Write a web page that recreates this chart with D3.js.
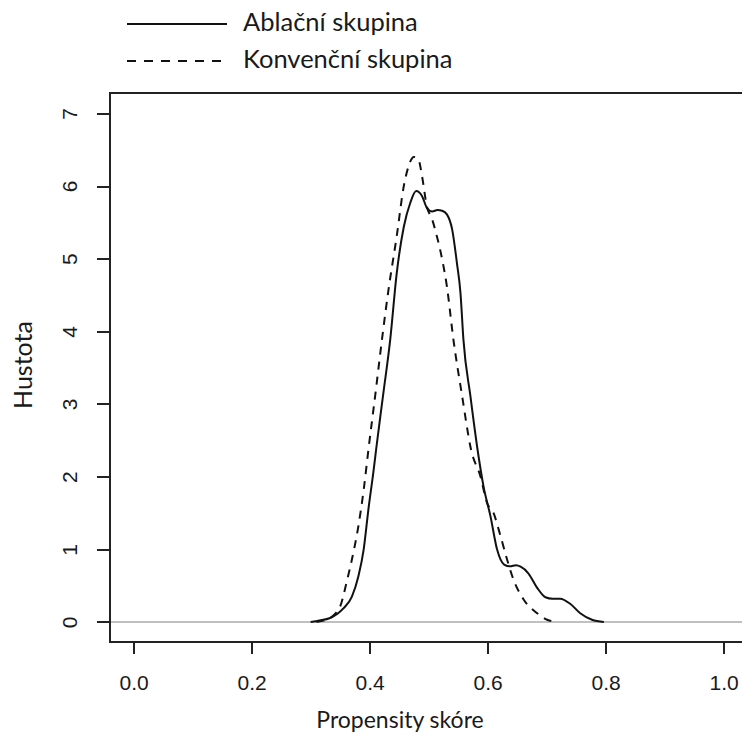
<!DOCTYPE html>
<html lang="cs">
<head>
    <meta charset="UTF-8">
    <title>Propensity skóre</title>
    <script type="text/javascript" src="https://cdn.jsdelivr.net/npm/d3@7"></script>
    <style>
        body { margin: 0; background: #fff; }
        .axis line { stroke: #222; stroke-width: 2; shape-rendering: crispEdges; }
        .axis text { font-family: "Liberation Sans", Arial, sans-serif; font-size: 21px; fill: #1a1a1a; }
        .lab { font-family: Lato, "Open Sans", sans-serif; fill: #1a1a1a; }
    </style>
</head>
<body>
    <script type="text/javascript">
        // odhad hustoty - ablacni skupina (plna cara)
        let ablX = [0.300, 0.315, 0.333, 0.345, 0.356, 0.370, 0.381, 0.390, 0.398, 0.407,
                    0.411, 0.423, 0.435, 0.446, 0.458, 0.469, 0.479, 0.489, 0.497, 0.506,
                    0.515, 0.523, 0.531, 0.540, 0.548, 0.554, 0.559, 0.571, 0.583, 0.593,
                    0.605, 0.616, 0.628, 0.638, 0.648, 0.656, 0.669, 0.684, 0.698, 0.710,
                    0.723, 0.740, 0.757, 0.777, 0.797]
        let ablY = [0, 0.02, 0.055, 0.11, 0.19, 0.35, 0.63, 1.00, 1.55, 2.10,
                    2.37, 3.13, 3.89, 4.80, 5.44, 5.77, 5.93, 5.86, 5.70, 5.65,
                    5.67, 5.66, 5.61, 5.40, 4.94, 4.53, 3.89, 3.10, 2.37, 1.87,
                    1.45, 1.00, 0.79, 0.765, 0.78, 0.76, 0.67, 0.47, 0.34, 0.32,
                    0.32, 0.25, 0.12, 0.03, 0]

        // konvencni skupina (carkovana)
        let konX = [0.310, 0.320, 0.330, 0.340, 0.350, 0.362, 0.370, 0.381, 0.390, 0.398,
                    0.410, 0.421, 0.432, 0.446, 0.458, 0.466, 0.475, 0.483, 0.489, 0.497,
                    0.506, 0.514, 0.523, 0.531, 0.542, 0.557, 0.572, 0.588, 0.599, 0.610,
                    0.622, 0.633, 0.644, 0.661, 0.684, 0.701, 0.718]
        let konY = [0, 0.015, 0.04, 0.10, 0.21, 0.58, 0.86, 1.32, 1.82, 2.37,
                    3.15, 3.89, 4.57, 5.31, 6.00, 6.27, 6.40, 6.36, 6.13, 5.72,
                    5.54, 5.31, 4.99, 4.62, 3.89, 3.10, 2.37, 2.00, 1.64, 1.50,
                    1.18, 0.86, 0.58, 0.31, 0.12, 0.03, 0]

        let xTicks = [0, 0.2, 0.4, 0.6, 0.8, 1.0]
        let yTicks = [0, 1, 2, 3, 4, 5, 6, 7]
        let seriesNames = ["Ablační skupina", "Konvenční skupina"]

        let w = 742, h = 736

        // R: rozsah 0..1 a 0..7 rozsireny o 4 %
        let xScale = d3.scaleLinear()
            .domain([-0.04, 1.04])
            .range([110, 747.2])

        let yScale = d3.scaleLinear()
            .domain([-0.28, 7.28])
            .range([642.3, 93.0])

        let svg = d3.select("body")
            .append("svg")
            .attr("width", w)
            .attr("height", h)

        // vodorovna cara y = 0
        svg.append("line")
            .attr("x1", xScale(-0.04))
            .attr("x2", xScale(1.04))
            .attr("y1", yScale(0))
            .attr("y2", yScale(0))
            .attr("stroke", "#c0c0c0")
            .attr("stroke-width", 2)

        let line = d3.line()
            .x((d) => xScale(d[0]))
            .y((d) => yScale(d[1]))
            .curve(d3.curveMonotoneX)

        svg.append("path")
            .datum(ablX.map((x, i) => [x, ablY[i]]))
            .attr("d", line)
            .attr("fill", "none")
            .attr("stroke", "#111")
            .attr("stroke-width", 2)

        svg.append("path")
            .datum(konX.map((x, i) => [x, konY[i]]))
            .attr("d", line)
            .attr("fill", "none")
            .attr("stroke", "#111")
            .attr("stroke-width", 2)
            .attr("stroke-dasharray", "8,7")

        // ramecek
        svg.append("rect")
            .attr("x", xScale(-0.04))
            .attr("y", yScale(7.28))
            .attr("width", xScale(1.04) - xScale(-0.04))
            .attr("height", yScale(-0.28) - yScale(7.28))
            .attr("fill", "none")
            .attr("stroke", "#222")
            .attr("stroke-width", 2)
            .attr("shape-rendering", "crispEdges")

        let xAxis = d3.axisBottom(xScale)
            .tickValues(xTicks)
            .tickFormat(d3.format(".1f"))
            .tickSize(12)
            .tickPadding(21)

        let yAxis = d3.axisLeft(yScale)
            .tickValues(yTicks)
            .tickFormat(d3.format("d"))
            .tickSize(13)

        let gx = svg.append("g")
            .attr("class", "axis")
            .attr("transform", "translate(0," + yScale(-0.28) + ")")
            .call(xAxis)
        gx.select(".domain").remove()

        let gy = svg.append("g")
            .attr("class", "axis")
            .attr("transform", "translate(" + xScale(-0.04) + ",0)")
            .call(yAxis)
        gy.select(".domain").remove()
        gy.selectAll("text")
            .attr("x", null)
            .attr("dy", null)
            .attr("text-anchor", "middle")
            .attr("transform", "translate(-33,0) rotate(-90)")

        // popisky os
        svg.append("text")
            .attr("class", "lab")
            .attr("x", 400)
            .attr("y", 728)
            .attr("text-anchor", "middle")
            .attr("font-size", "23px")
            .text("Propensity skóre")

        svg.append("text")
            .attr("class", "lab")
            .attr("text-anchor", "middle")
            .attr("font-size", "25px")
            .attr("transform", "translate(32,365) rotate(-90)")
            .text("Hustota")

        // legenda
        let legend = svg.selectAll(".leg")
            .data(seriesNames)
            .enter()
            .append("g")
            .attr("class", "leg")
            .attr("transform", (d, i) => "translate(127," + (24 + i * 37) + ")")

        legend.append("line")
            .attr("x1", 0)
            .attr("x2", 100)
            .attr("stroke", "#111")
            .attr("stroke-width", 2)
            .attr("stroke-dasharray", (d, i) => i === 1 ? "9,8" : null)

        legend.append("text")
            .attr("class", "lab")
            .attr("x", 116)
            .attr("y", 7)
            .attr("font-size", "25.5px")
            .text((d) => d)
    </script>
</body>
</html>
